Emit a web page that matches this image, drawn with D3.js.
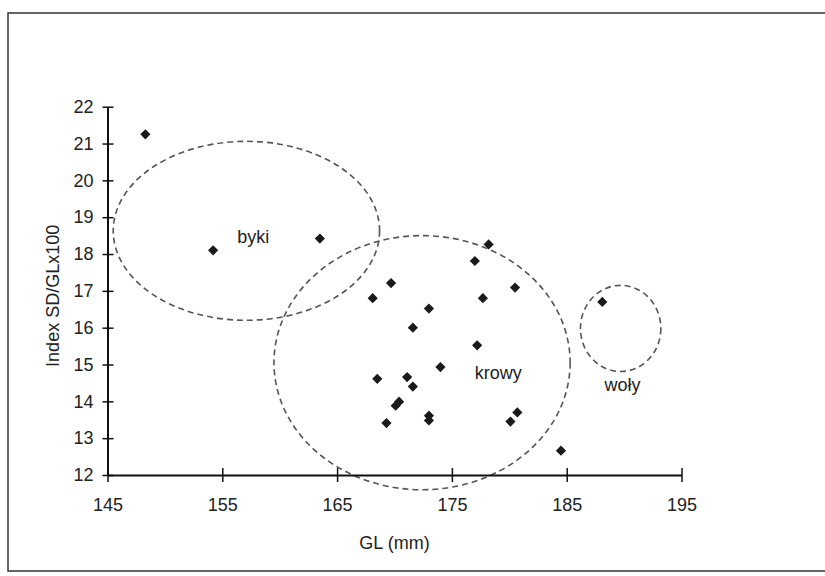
<!DOCTYPE html>
<html>
<head>
<meta charset="utf-8">
<script src="https://cdn.jsdelivr.net/npm/d3@7"></script>
<style>
  body { margin: 0; background: #fff; }
  svg { display: block; font-family: "Liberation Sans", Arial, sans-serif; }
</style>
</head>
<body>
<svg id="chart" width="825" height="576"></svg>
<script>
// GL (mm) vs Index SD/GLx100
const glValues = [148.3, 154.2, 163.5, 178.2, 177.0, 169.7, 168.1, 180.5, 177.7, 173.0,
                  171.6, 177.2, 174.0, 168.5, 171.1, 171.6, 170.4, 170.1, 173.0, 173.0,
                  169.3, 180.7, 180.1, 184.5, 188.1];
const indexValues = [21.25, 18.10, 18.42, 18.26, 17.81, 17.21, 16.80, 17.09, 16.80, 16.52,
                     16.00, 15.52, 14.93, 14.61, 14.66, 14.40, 13.99, 13.88, 13.61, 13.48,
                     13.41, 13.70, 13.45, 12.66, 16.70];

// groups: centre and radii in data units
const groupNames = ["byki", "krowy", "woły"];
const groupCx = [157.1, 172.4, 189.7];
const groupCy = [18.63, 15.05, 15.98];
const groupRx = [11.6, 12.9, 3.5];
const groupRy = [2.43, 3.45, 1.17];
const labelX = [156.3, 177.0, 188.3];
const labelY = [18.29, 14.62, 14.29];

const xTicks = [145, 155, 165, 175, 185, 195];
const yTicks = [12, 13, 14, 15, 16, 17, 18, 19, 20, 21, 22];

const svg = d3.select("#chart");

// page frame
svg.append("path")
    .attr("d", "M830,13 L8,13 L8,571 L830,571")
    .attr("fill", "none")
    .attr("stroke", "#333")
    .attr("stroke-width", 1.5);

const x = d3.scaleLinear().domain([145, 195]).range([107.5, 681.5]);
const y = d3.scaleLinear().domain([12, 22]).range([475, 106.7]);

// ellipses
svg.append("g").selectAll("ellipse")
    .data(groupNames)
    .join("ellipse")
    .attr("cx", (d, i) => x(groupCx[i]))
    .attr("cy", (d, i) => y(groupCy[i]))
    .attr("rx", (d, i) => x(groupCx[i] + groupRx[i]) - x(groupCx[i]))
    .attr("ry", (d, i) => y(groupCy[i]) - y(groupCy[i] + groupRy[i]))
    .attr("fill", "none")
    .attr("stroke", "#555")
    .attr("stroke-width", 1.6)
    .attr("stroke-dasharray", "6,4");

// axes
const xAxis = svg.append("g")
    .attr("transform", `translate(0,${y(12)})`)
    .call(d3.axisBottom(x).tickValues(xTicks).tickSize(7).tickPadding(16).tickSizeOuter(0));
xAxis.selectAll(".tick line").attr("y1", -7);

const yAxis = svg.append("g")
    .attr("transform", `translate(${x(145)},0)`)
    .call(d3.axisLeft(y).tickValues(yTicks).tickSize(5).tickPadding(9).tickSizeOuter(0));
yAxis.selectAll(".tick line").attr("x1", 6);

svg.selectAll(".domain").attr("stroke", "#111").attr("stroke-width", 2);
svg.selectAll(".tick line").attr("stroke", "#111").attr("stroke-width", 1.5);
svg.selectAll(".tick text")
    .attr("font-size", 18)
    .attr("font-family", "Liberation Sans, Arial, sans-serif")
    .attr("fill", "#222");

// axis titles
svg.append("text")
    .attr("x", x(170))
    .attr("y", 549)
    .attr("text-anchor", "middle")
    .attr("font-size", 18)
    .attr("fill", "#222")
    .text("GL (mm)");

svg.append("text")
    .attr("transform", `translate(59,${y(17) + 5}) rotate(-90)`)
    .attr("text-anchor", "middle")
    .attr("font-size", 18)
    .attr("fill", "#222")
    .text("Index SD/GLx100");

// points
svg.append("g").selectAll("path")
    .data(glValues)
    .join("path")
    .attr("d", d3.symbol(d3.symbolSquare, 52))
    .attr("transform", (d, i) => `translate(${x(d)},${y(indexValues[i])}) rotate(45)`)
    .attr("fill", "#1a1a1a");

// group labels
svg.append("g").selectAll("text")
    .data(groupNames)
    .join("text")
    .attr("x", (d, i) => x(labelX[i]))
    .attr("y", (d, i) => y(labelY[i]))
    .attr("font-size", 18)
    .attr("fill", "#222")
    .text(d => d);
</script>
</body>
</html>
